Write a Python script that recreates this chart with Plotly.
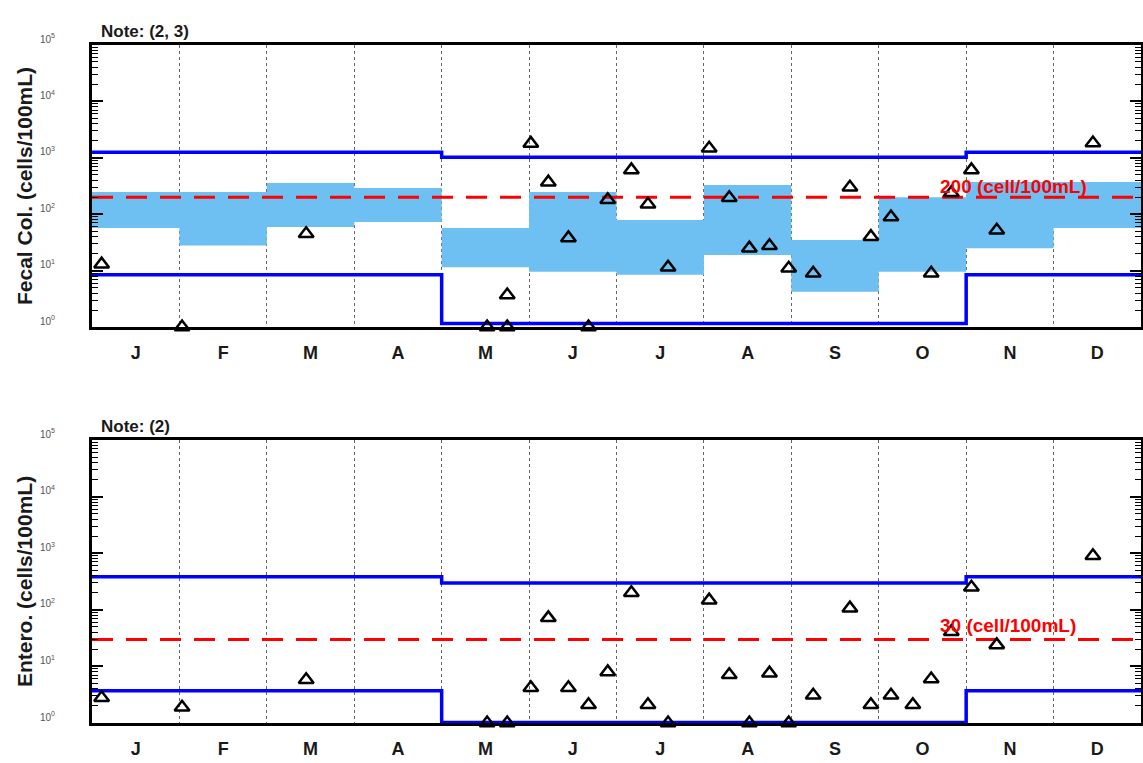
import numpy as np
import plotly.graph_objects as go

# Month layout: x is measured in months from 1 January (0) to 31 December (12)
MONTH_LETTERS = ["J", "F", "M", "A", "M", "J", "J", "A", "S", "O", "N", "D"]
month_edges = list(range(13))
month_centers = [m + 0.5 for m in range(12)]

# Fecal coliform samples (month position, cells/100mL)
fc_x = [0.11, 1.03, 2.45, 4.52, 4.75, 4.75, 5.02, 5.22, 5.45, 5.68, 5.90, 6.17, 6.36, 6.59,
        7.06, 7.29, 7.52, 7.75, 7.97, 8.25, 8.67, 8.91, 9.14, 9.60, 9.83, 10.06, 10.35, 11.45]
fc_val = [13, 1, 45, 1, 1, 3.7, 1800, 370, 38, 1, 180, 610, 150, 11.5,
          1480, 195, 25, 27.5, 11, 9, 300, 40, 89, 9, 240, 610, 52, 1830]

# Monthly historical range of fecal coliform (shaded band)
fc_band_low = [57, 28, 59, 73, 11.5, 9.5, 8.4, 19, 4.2, 9.5, 25, 57]
fc_band_high = [247, 247, 357, 291, 57, 247, 79, 330, 35, 200, 372, 372]

# Monthly control limits
fc_upper = [1260, 1260, 1260, 1260, 1020, 1020, 1020, 1020, 1020, 1020, 1260, 1260]
fc_lower = [8.4, 8.4, 8.4, 8.4, 1.15, 1.15, 1.15, 1.15, 1.15, 1.15, 8.4, 8.4]
FC_STANDARD = 200

# Enterococcus samples (month position, cells/100mL)
ent_x = [0.11, 1.03, 2.45, 4.52, 4.75, 5.02, 5.22, 5.45, 5.68, 5.90, 6.17, 6.36, 6.59, 7.06,
         7.29, 7.52, 7.75, 7.97, 8.25, 8.67, 8.91, 9.14, 9.39, 9.60, 9.83, 10.06, 10.35, 11.45]
ent_val = [2.8, 1.9, 5.8, 1, 1, 4.2, 72, 4.2, 2.1, 8, 200, 2.1, 1, 148,
           7.1, 1, 7.6, 1, 3.1, 107, 2.1, 3.1, 2.1, 6.0, 41, 250, 24, 900]

ent_upper = [385, 385, 385, 385, 296, 296, 296, 296, 296, 296, 385, 385]
ent_lower = [3.7, 3.7, 3.7, 3.7, 1.02, 1.02, 1.02, 1.02, 1.02, 1.02, 3.7, 3.7]
ENT_STANDARD = 30

BAND_COLOR = "rgb(110,192,242)"
LIMIT_COLOR = "#0000ff"
STD_COLOR = "#ff0000"
FONT = "Liberation Sans"


def steps(values):
    # one value per month -> step line over the month edges
    return month_edges, list(values) + [values[-1]]


fig = go.Figure()


def add_panel(xa, ya, x, vals, upper, lower, standard, band=None):
    if band is not None:
        bx, blo = steps(band[0])
        _, bhi = steps(band[1])
        fig.add_trace(go.Scatter(x=bx, y=blo, mode="lines", line=dict(width=0, shape="hv"),
                                 hoverinfo="skip", xaxis=xa, yaxis=ya))
        fig.add_trace(go.Scatter(x=bx, y=bhi, mode="lines", line=dict(width=0, shape="hv"),
                                 fill="tonexty", fillcolor=BAND_COLOR,
                                 hoverinfo="skip", xaxis=xa, yaxis=ya))
    fig.add_trace(go.Scatter(x=[month_edges[0], month_edges[-1]], y=[standard, standard],
                             mode="lines", line=dict(color=STD_COLOR, width=3, dash="21px,13px"),
                             xaxis=xa, yaxis=ya))
    for lim in (upper, lower):
        lx, ly = steps(lim)
        fig.add_trace(go.Scatter(x=lx, y=ly, mode="lines",
                                 line=dict(color=LIMIT_COLOR, width=3.5, shape="hv"),
                                 cliponaxis=False, xaxis=xa, yaxis=ya))
    fig.add_trace(go.Scatter(x=x, y=vals, mode="markers",
                             marker=dict(symbol="triangle-up-open", size=13, color="black",
                                         line=dict(color="black", width=2.5)),
                             cliponaxis=False, xaxis=xa, yaxis=ya))


add_panel("x", "y", fc_x, fc_val, fc_upper, fc_lower, FC_STANDARD,
          band=(fc_band_low, fc_band_high))
add_panel("x2", "y2", ent_x, ent_val, ent_upper, ent_lower, ENT_STANDARD)

H = 763.0
minor_y = [m * 10 ** k for k in range(5) for m in range(2, 10)]


def xaxis_cfg(anchor):
    return dict(
        anchor=anchor, range=[0, 12], domain=[0, 1], automargin=False,
        tickmode="array", tickvals=month_centers, ticktext=MONTH_LETTERS,
        ticks="", showgrid=False, zeroline=False,
        showline=True, linecolor="black", linewidth=2.5, mirror=True,
        tickfont=dict(family=FONT, size=18, color="#1a1a1a", weight="bold"),
        ticklabelstandoff=8,
        minor=dict(tickmode="array", tickvals=month_edges[1:-1], showgrid=True,
                   griddash="dot", gridcolor="#666666", gridwidth=1, ticks=""),
    )


def yaxis_cfg(anchor, domain, title):
    return dict(
        anchor=anchor, domain=domain, type="log", range=[0, 5], automargin=False,
        tickmode="array", tickvals=[10 ** k for k in range(6)],
        ticktext=[f"10<sup>{k}</sup>" for k in range(6)],
        ticks="inside", ticklen=11, tickwidth=1.5, tickcolor="black",
        minor=dict(tickmode="array", tickvals=minor_y, ticks="inside", ticklen=6,
                   tickwidth=1.2, tickcolor="black", showgrid=False),
        showgrid=False, zeroline=False,
        showline=True, linecolor="black", linewidth=3, mirror="allticks",
        tickfont=dict(family=FONT, size=10, color="#555555"),
        ticklabelstandoff=32, ticklabelshift=-6,
        title=dict(text=title, font=dict(family=FONT, size=21, color="#1a1a1a", weight="bold"),
                   standoff=2),
    )


fig.update_layout(
    width=1143, height=763,
    margin=dict(l=92, r=2, t=0, b=0, autoexpand=False),
    paper_bgcolor="white", plot_bgcolor="white",
    showlegend=False,
    xaxis=xaxis_cfg("y"),
    yaxis=yaxis_cfg("x", [1 - 327 / H, 1 - 45 / H], "Fecal Col. (cells/100mL)"),
    xaxis2=xaxis_cfg("y2"),
    yaxis2=yaxis_cfg("x2", [1 - 723 / H, 1 - 440 / H], "Entero. (cells/100mL)"),
)

note_font = dict(family=FONT, size=17, color="#1a1a1a", weight="bold")
std_font = dict(family=FONT, size=19, color=STD_COLOR, weight="bold")
fig.add_annotation(text="Note: (2, 3)", xref="x domain", yref="y domain", x=0.007, y=1,
                   xanchor="left", yanchor="bottom", yshift=2, showarrow=False, font=note_font)
fig.add_annotation(text="Note: (2)", xref="x2 domain", yref="y2 domain", x=0.007, y=1,
                   xanchor="left", yanchor="bottom", yshift=2, showarrow=False, font=note_font)
fig.add_annotation(text=f"{FC_STANDARD} (cell/100mL)", xref="x", yref="y",
                   x=9.68, y=np.log10(FC_STANDARD), xanchor="left", yanchor="middle",
                   yshift=11, showarrow=False, font=std_font)
fig.add_annotation(text=f"{ENT_STANDARD} (cell/100mL)", xref="x2", yref="y2",
                   x=9.68, y=np.log10(ENT_STANDARD), xanchor="left", yanchor="middle",
                   yshift=14, showarrow=False, font=std_font)

fig.write_html("out.html")
